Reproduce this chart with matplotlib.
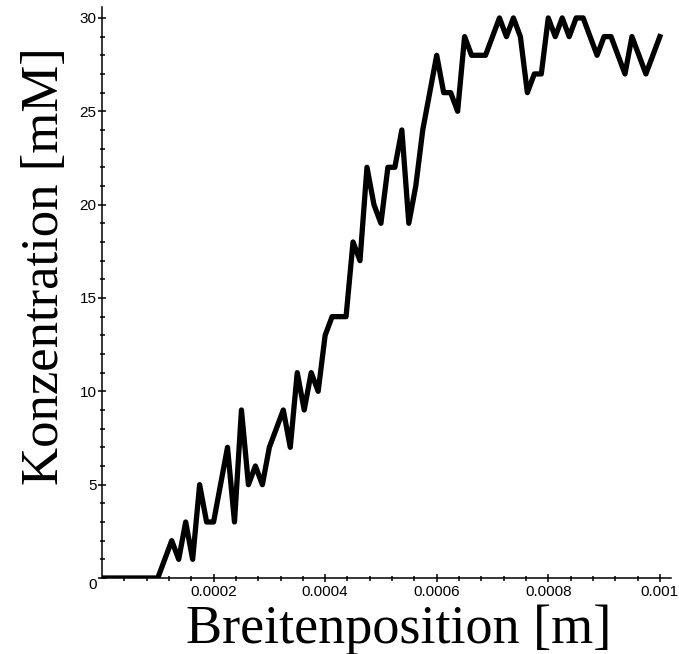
import matplotlib
matplotlib.use("Agg")
import matplotlib.pyplot as plt
import numpy as np

# concentration profile, sampled every 1.25e-5 m (81 points over 0 .. 0.001 m)
step = 1.25e-5
konz = [0, 0, 0, 0, 0, 0, 0, 0, 0, 1,
        2, 1, 3, 1, 5, 3, 3, 5, 7, 3,
        9, 5, 6, 5, 7, 8, 9, 7, 11, 9,
        11, 10, 13, 14, 14, 14, 18, 17, 22, 20,
        19, 22, 22, 24, 19, 21, 24, 26, 28, 26,
        26, 25, 29, 28, 28, 28, 29, 30, 29, 30,
        29, 26, 27, 27, 30, 29, 30, 29, 30, 30,
        29, 28, 29, 29, 28, 27, 29, 28, 27, 28,
        29]
pos = np.arange(len(konz)) * step

xticks = [0.0002, 0.0004, 0.0006, 0.0008, 0.001]
xtick_labels = ["0.0002", "0.0004", "0.0006", "0.0008", "0.001"]
yticks = [0, 5, 10, 15, 20, 25, 30]
ytick_labels = ["0", "5", "10", "15", "20", "25", "30"]

fig = plt.figure(figsize=(6.79, 6.54), dpi=100)
ax = fig.add_axes([102 / 679, 76 / 654, 569 / 679, 570.7 / 654])

ax.plot(pos, konz, color="black", linewidth=3.8, solid_joinstyle="round")

ax.set_xlim(0, 0.00102)
ax.set_ylim(0, 30.57)

for s in ["top", "right"]:
    ax.spines[s].set_visible(False)
for s in ["left", "bottom"]:
    ax.spines[s].set_linewidth(1.1)

ax.set_xticks(xticks, xtick_labels)
ax.set_yticks(yticks, ytick_labels)
ax.set_xticks(np.arange(0.00004, 0.00101, 0.00004), minor=True)
ax.set_yticks(np.arange(1, 31, 1), minor=True)

ax.tick_params(which="major", direction="inout", length=5.8, width=1.1,
               labelsize=11, pad=1)
ax.tick_params(which="minor", direction="inout", length=3.6, width=1.1)
ax.tick_params(axis="x", which="major", pad=2.5)
for lbl in ax.get_xticklabels() + ax.get_yticklabels():
    lbl.set_fontfamily("Liberation Sans")
ax.get_yticklabels()[0].set_verticalalignment("top")

fig.text(399 / 679, 11 / 654, "Breitenposition [m]", family="Liberation Serif",
         fontsize=39, ha="center", va="baseline")
fig.text(58 / 679, 1 - 266 / 654, "Konzentration [mM]", family="Liberation Serif",
         fontsize=38, rotation=90, rotation_mode="anchor",
         ha="center", va="baseline")

fig.savefig("out.png", dpi=100)
